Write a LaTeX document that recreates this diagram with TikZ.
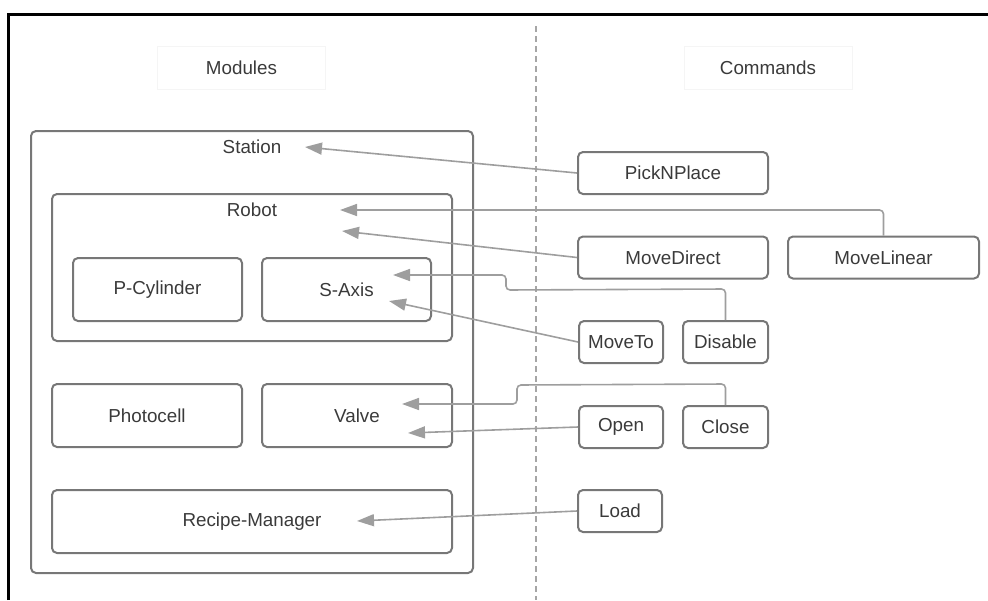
\documentclass[tikz,border=0pt]{standalone}
\usepackage{fontspec}
\setmainfont{Liberation Sans}
\usetikzlibrary{
    arrows.meta,
    positioning
}
\definecolor{boxgray}{HTML}{777777}
\definecolor{linkgray}{HTML}{9E9E9E}
\definecolor{txtgray}{HTML}{3A3A3A}
\tikzset{
    module/.style={shape=rectangle, draw=boxgray, line width=2, rounded corners=5,
        text=txtgray, inner sep=0},
    command/.style={module, minimum height=42},
    header/.style={shape=rectangle, draw=black!4, text=txtgray, minimum width=168,
        minimum height=43},
    caption/.style={text=txtgray, inner sep=0},
    link/.style={draw=linkgray, line width=1.6, rounded corners=4,
        -{Triangle[length=17,width=12]}}
}

\begin{document}
\begin{tikzpicture}[x=1pt, y=-1pt, font=\fontsize{18.8}{22}\selectfont]
    \useasboundingbox (0,0) rectangle (988,600);
    \draw [line width=3] (8,600) -- (8,14) -- (988,14);
    % the two columns
    \coordinate (sepTop) at (536,26);
    \coordinate (sepBot) at (536,600);
    \draw [draw=black!35, line width=1.3, dash pattern=on 6 off 4] (sepTop) -- (sepBot);
    \node [header] (modules)  at (241.5,67.5) {Modules};
    \node [header] (commands) at (768,67.5)   {Commands};
    % modules
    \node [module, minimum width=442, minimum height=442] (station) at (252,352) {};
    \node [caption] (stationTxt) at (252,147) {Station};
    \node [module, minimum width=400, minimum height=147] (robot) at (252,267.5) {};
    \node [caption] (robotTxt) at (252,210) {Robot};
    \path (157.5,289.5) node [module, minimum width=169, minimum height=63] (cylinder) {P-Cylinder}
          (346.5,289.5) node [module, minimum width=169, minimum height=63] (saxis) {S-Axis}
          (147,415.5)   node [module, minimum width=190, minimum height=63] (photocell) {Photocell}
          (357,415.5)   node [module, minimum width=190, minimum height=63] (valve) {Valve}
          (252,521.5)   node [module, minimum width=400, minimum height=63] (recipe) {Recipe-Manager};
    % commands
    \path (673,173)   node [command, minimum width=190] (pick) {PickNPlace}
          (673,257.5) node [command, minimum width=190] (direct) {MoveDirect}
          (883.5,257.5) node [command, minimum width=191] (linear) {MoveLinear}
          (621,342)   node [command, minimum width=84] (moveto) {MoveTo}
          (725.5,342) node [command, minimum width=85] (disable) {Disable}
          (621,427)   node [command, minimum width=84] (open) {Open}
          (725.5,427) node [command, minimum width=85] (close) {Close}
          (620,511)   node [command, minimum width=84] (load) {Load};
    % where the arrows end
    \coordinate (stationIn) at (305,147);
    \coordinate (robotInA)  at (340,210);
    \coordinate (robotInB)  at (342,231);
    \coordinate (saxisInA)  at (393,275);
    \coordinate (saxisInB)  at (389,301);
    \coordinate (valveInA)  at (402,404);
    \coordinate (valveInB)  at (408,433);
    \coordinate (recipeIn)  at (357,521);
    \draw [link] (pick.west) -- (stationIn);
    \draw [link] (linear.north) -- (linear.north |- robotInA) -- (robotInA);
    \draw [link] (direct.west) -- (robotInB);
    \draw [link] (disable.north) -- ++(0,-31) -- (506,290) -- (506,275) -- (saxisInA);
    \draw [link] (moveto.west) -- (saxisInB);
    \draw [link] (close.north) -- ++(0,-21) -- (517,385) -- (517,404) -- (valveInA);
    \draw [link] (open.west) -- (valveInB);
    \draw [link] (load.west) -- (recipeIn);
\end{tikzpicture}
\end{document}
